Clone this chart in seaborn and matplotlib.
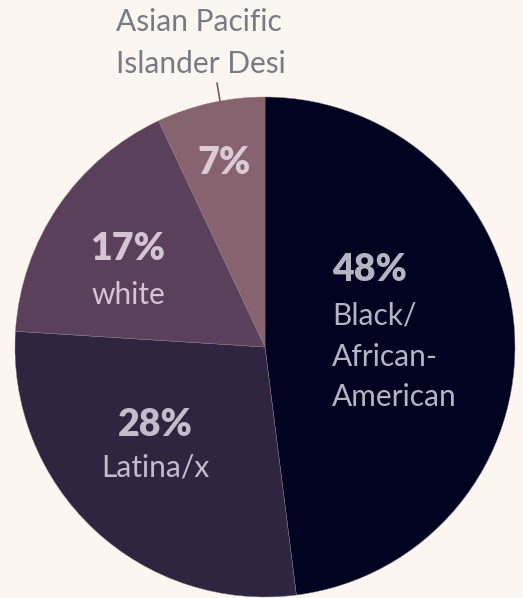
import matplotlib
matplotlib.use("Agg")
import matplotlib.pyplot as plt
import seaborn as sns

categories = ["Black/\nAfrican-\nAmerican", "Latina/x", "white", "Asian Pacific\nIslander Desi"]
values = [48, 28, 17, 7]
pct_labels = ["48%", "28%", "17%", "7%"]
colors = ["#000421", "#2f2540", "#5a405a", "#87626f"]
text_colors = ["#b4b4c2", "#c4bccb", "#d4c4d4", "#dccbd6"]

sns.set_theme(style="white")
plt.rcParams["font.family"] = ["Lato", "DejaVu Sans"]
bg = "#fdf5f0"

fig = plt.figure(figsize=(5.23, 5.98), dpi=100, facecolor=bg)
ax = fig.add_axes([15/523, 1/598, 500/523, 500/598])
ax.set_facecolor(bg)
ax.pie(values, colors=colors, startangle=90, counterclock=False, radius=1,
       wedgeprops=dict(edgecolor="#8a7a85", linewidth=0.3))
ax.set_xlim(-1, 1)
ax.set_ylim(-1, 1)
ax.set_aspect("equal")
ax.axis("off")

pct_fs = 27
lab_fs = 21.5

# 48%
ax.text(0.268, 0.308, pct_labels[0], color=text_colors[0], fontsize=pct_fs, fontweight="heavy",
        ha="left", va="center")
for i, line in enumerate(categories[0].split("\n")):
    ax.text(0.268, 0.124 - i * 0.162, line, color=text_colors[0], fontsize=lab_fs,
            ha="left", va="center")
# 28%
ax.text(-0.44, -0.312, pct_labels[1], color=text_colors[1], fontsize=pct_fs, fontweight="heavy",
        ha="center", va="center")
ax.text(-0.44, -0.484, categories[1], color=text_colors[1], fontsize=lab_fs,
        ha="center", va="center")
# 17%
ax.text(-0.548, 0.392, pct_labels[2], color=text_colors[2], fontsize=pct_fs, fontweight="heavy",
        ha="center", va="center")
ax.text(-0.548, 0.208, categories[2], color=text_colors[2], fontsize=lab_fs,
        ha="center", va="center")
# 7%
ax.text(-0.164, 0.736, pct_labels[3], color=text_colors[3], fontsize=pct_fs, fontweight="heavy",
        ha="center", va="center")
# outside label
for i, line in enumerate(categories[3].split("\n")):
    ax.text(-0.598, 1.30 - i * 0.168, line, color="#767b85", fontsize=lab_fs,
            ha="left", va="center", clip_on=False)
ax.plot([-0.192, -0.18], [1.056, 0.984], color="#7a5565", linewidth=1.2, clip_on=False)

fig.savefig("out.png", dpi=100, facecolor=bg)
